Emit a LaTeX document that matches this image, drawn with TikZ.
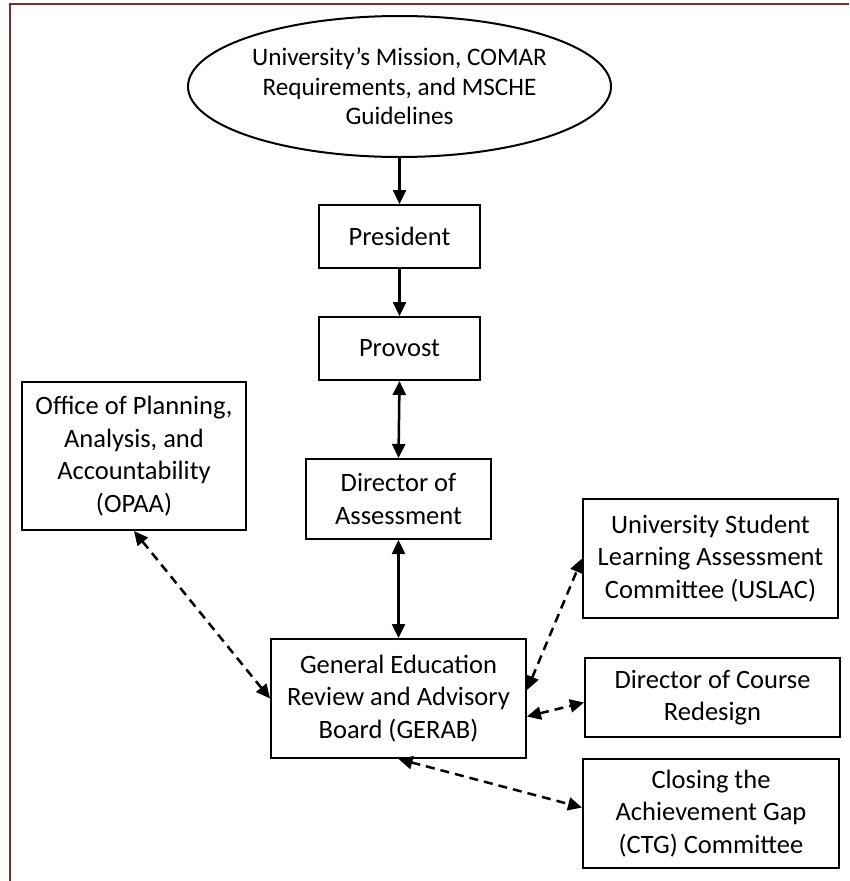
\documentclass[tikz,border=0pt]{standalone}
\usepackage{fontspec}
\setmainfont{Carlito}
\usetikzlibrary{arrows.meta,shapes.geometric}
\definecolor{framered}{RGB}{128,44,44}
\begin{document}
\begin{tikzpicture}[x=1pt,y=-1pt,
  every node/.style={font=\fontsize{26.5}{32.5}\selectfont, align=center, inner sep=0pt, text=black},
  boxnode/.style={draw, line width=2pt, rectangle, anchor=center},
  tipstyle/.style={-{Triangle[length=14pt,width=13pt]}},
  solidarrow/.style={line width=2.5pt, tipstyle},
  solidboth/.style={line width=2.5pt, {Triangle[length=14pt,width=13pt]}-{Triangle[length=14pt,width=13pt]}},
  dashboth/.style={line width=2.5pt, dash pattern=on 9pt off 6pt, {Triangle[length=14pt,width=13pt]}-{Triangle[length=14pt,width=13pt]}}
]
\useasboundingbox (0,0) rectangle (849,881);
% page frame
\coordinate (ftl) at (10,4);
\coordinate (ftr) at (849,4);
\coordinate (fbl) at (10,881);
\draw[framered, line width=2.5pt] (fbl) -- (ftl) -- (ftr);

\node[draw, ellipse, line width=2pt, minimum width=423pt, minimum height=141pt,
      font=\fontsize{25.2}{29.5}\selectfont] (mission) at (399.5,86.5)
  {University’s Mission, COMAR\\Requirements, and MSCHE\\Guidelines};
\node[boxnode, minimum width=161pt, minimum height=63pt] (pres) at (399.5,236.5) {President};
\node[boxnode, minimum width=161pt, minimum height=63pt] (prov) at (399.5,348.5) {Provost};
\node[boxnode, minimum width=185pt, minimum height=80pt] (dir) at (398.5,499) {Director of\\Assessment};
\node[boxnode, minimum width=255pt, minimum height=119pt] (gerab) at (398.5,698.5) {General Education\\Review and Advisory\\Board (GERAB)};
\node[boxnode, minimum width=224pt, minimum height=148pt] (opaa) at (134,456) {Office of Planning,\\Analysis, and\\Accountability\\(OPAA)};
\node[boxnode, minimum width=255pt, minimum height=119pt] (uslac) at (710.5,558.5) {University Student\\Learning Assessment\\Committee (USLAC)};
\node[boxnode, minimum width=255pt, minimum height=79pt] (dcr) at (712.5,697.5) {Director of Course\\Redesign};
\node[boxnode, minimum width=256pt, minimum height=109pt] (ctg) at (711,813.5) {Closing the\\Achievement Gap\\(CTG) Committee};

\draw[solidarrow] (mission.south) -- (pres.north);
\draw[solidarrow] (pres.south) -- (prov.north);
\draw[solidboth] (prov.south) -- (dir.north);
\draw[solidboth] (dir.south) -- (gerab.north);
\draw[dashboth] (opaa.south) -- (gerab.west);
\draw[dashboth] ([yshift=8.5pt]gerab.east) -- (uslac.west);
\draw[dashboth] ([yshift=-18pt]gerab.east) -- ([yshift=-5pt]dcr.west);
\draw[dashboth] (gerab.south) -- ([yshift=6pt]ctg.west);
\end{tikzpicture}
\end{document}
